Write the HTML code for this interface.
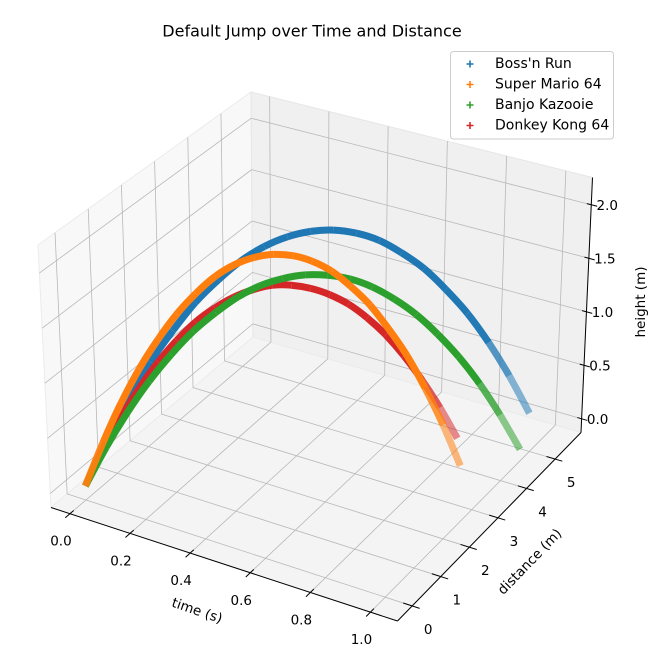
<!DOCTYPE html>
<html><head><meta charset="utf-8"><style>
html,body{margin:0;padding:0;background:#fff;}
svg{display:block;font-family:"DejaVu Sans","Liberation Sans",sans-serif;}
</style></head><body>
<svg id="chart" width="670" height="658" viewBox="0 0 670 658" xmlns="http://www.w3.org/2000/svg">
<text x="312" y="31" font-size="16" text-anchor="middle" dominant-baseline="central" fill="#000">Default Jump over Time and Distance</text>
<g id="panes"></g><g id="grid"></g><g id="axes"></g><g id="series"></g>
<g>
<rect x="450.5" y="51.5" width="163" height="87.5" rx="3" fill="#fff" fill-opacity="0.8" stroke="#cccccc" stroke-width="1"/>
<g><path d="M466.5 64h7M470 60.5v7" stroke="#1f77b4" stroke-width="1.6"/><text x="495" y="64" font-size="14" dominant-baseline="central">Boss'n Run</text></g>
<g><path d="M466.5 84.5h7M470 81v7" stroke="#ff7f0e" stroke-width="1.6"/><text x="495" y="84.5" font-size="14" dominant-baseline="central">Super Mario 64</text></g>
<g><path d="M466.5 105h7M470 101.5v7" stroke="#2ca02c" stroke-width="1.6"/><text x="495" y="105" font-size="14" dominant-baseline="central">Banjo Kazooie</text></g>
<g><path d="M466.5 125.5h7M470 122v7" stroke="#d62728" stroke-width="1.6"/><text x="495" y="125.5" font-size="14" dominant-baseline="central">Donkey Kong 64</text></g>
</g>
</svg>
<script>
// ---- data ----
const seriesNames = ["Boss'n Run", "Donkey Kong 64", "Banjo Kazooie", "Super Mario 64"];
const seriesColors = ["#1f77b4", "#d62728", "#2ca02c", "#ff7f0e"];
const bossTime = [0,.047,.093,.14,.187,.233,.28,.327,.373,.42,.467,.513,.56,.606,.653,.7,.746,.793,.84,.886,.933];
const bossDist = [0,.283,.565,.848,1.13,1.413,1.695,1.978,2.26,2.543,2.825,3.108,3.39,3.673,3.955,4.238,4.52,4.803,5.085,5.368,5.65];
const bossHeight = [0,.39,.74,1.05,1.31,1.54,1.72,1.87,1.97,2.03,2.05,2.03,1.97,1.87,1.72,1.54,1.31,1.05,.74,.39,0];
const marioTime = [0,.045,.089,.134,.178,.223,.267,.312,.356,.401,.445,.49,.534,.579,.623,.668,.712,.757,.801,.846,.89];
const marioDist = [0,.185,.37,.555,.74,.925,1.11,1.295,1.48,1.665,1.85,2.035,2.22,2.405,2.59,2.775,2.96,3.145,3.33,3.515,3.7];
const marioHeight = [0,.39,.74,1.05,1.31,1.54,1.72,1.87,1.97,2.03,2.05,2.03,1.97,1.87,1.72,1.54,1.31,1.05,.74,.39,0];
const banjoTime = [0,.05,.101,.151,.201,.251,.302,.352,.402,.452,.503,.553,.603,.653,.704,.754,.804,.854,.905,.955,1.005];
const banjoDist = [0,.231,.461,.692,.922,1.153,1.383,1.614,1.844,2.075,2.305,2.536,2.766,2.997,3.227,3.458,3.688,3.919,4.149,4.38,4.61];
const banjoHeight = [0,.34,.65,.92,1.15,1.35,1.51,1.64,1.73,1.78,1.8,1.78,1.73,1.64,1.51,1.35,1.15,.92,.65,.34,0];
const dkTime = [0,.04,.081,.121,.162,.202,.242,.283,.323,.364,.404,.444,.485,.525,.566,.606,.646,.687,.727,.768,.808];
const dkDist = [0,.221,.441,.662,.882,1.103,1.323,1.544,1.764,1.985,2.205,2.426,2.646,2.867,3.087,3.308,3.528,3.749,3.969,4.19,4.41];
const dkHeight = [0,.31,.59,.84,1.06,1.24,1.39,1.50,1.58,1.63,1.65,1.63,1.58,1.50,1.39,1.24,1.06,.84,.59,.31,0];
const timeTicks = [0, 0.2, 0.4, 0.6, 0.8, 1.0];
const timeTickLabels = ["0.0","0.2","0.4","0.6","0.8","1.0"];
const distTicks = [0,1,2,3,4,5];
const distTickLabels = ["0","1","2","3","4","5"];
const heightTicks = [0, 0.5, 1.0, 1.5, 2.0];
const heightTickLabels = ["0.0","0.5","1.0","1.5","2.0"];

// ---- projection (box corners) ----
const TMIN=-0.063, TMAX=1.090, DMIN=-0.513, DMAX=5.905, HMIN=-0.128, HMAX=2.255;
const A=[51,507.5],B=[397.5,621],C=[581,432.5],D=[253,337],E=[38,245],F=[402,351],G=[592.5,177.5],H=[251,92];
function bil(p00,p10,p11,p01,u,v){return [p00[0]*(1-u)*(1-v)+p10[0]*u*(1-v)+p11[0]*u*v+p01[0]*(1-u)*v,p00[1]*(1-u)*(1-v)+p10[1]*u*(1-v)+p11[1]*u*v+p01[1]*(1-u)*v];}
function proj(t,d,h){const u=(t-TMIN)/(TMAX-TMIN),v=(d-DMIN)/(DMAX-DMIN),w=(h-HMIN)/(HMAX-HMIN);
 const b=bil(A,B,C,D,u,v),tp=bil(E,F,G,H,u,v);return [b[0]+(tp[0]-b[0])*w,b[1]+(tp[1]-b[1])*w];}
function closeness(t,d,h){const u=(t-TMIN)/(TMAX-TMIN),v=(d-DMIN)/(DMAX-DMIN),w=(h-HMIN)/(HMAX-HMIN);return .433*u-.75*v+.375*w;}
const NS="http://www.w3.org/2000/svg";
function mk(tag,attrs,parent){const e=document.createElementNS(NS,tag);for(const k in attrs)e.setAttribute(k,attrs[k]);parent.appendChild(e);return e;}
function line(p,q,stroke,sw,parent){return mk('line',{x1:p[0],y1:p[1],x2:q[0],y2:q[1],stroke:stroke,'stroke-width':sw},parent);}
function poly(pts){return pts.map(p=>p[0].toFixed(1)+','+p[1].toFixed(1)).join(' ');}

const panes=document.getElementById('panes');
let el=mk('polygon',{points:poly([A,D,H,E]),fill:'#f8f8f8',stroke:'#ebebeb','stroke-width':1},panes);


el=mk('polygon',{points:poly([D,C,G,H]),fill:'#f0f0f0',stroke:'#e6e6e6','stroke-width':1},panes);


el=mk('polygon',{points:poly([A,B,C,D]),fill:'#f4f4f4',stroke:'#ebebeb','stroke-width':1},panes);



const grid=document.getElementById('grid');const gc='#b8b8b8',gw=0.8;
distTicks.forEach(d=>{
 el=line(proj(TMIN,d,HMIN),proj(TMIN,d,HMAX),gc,gw,grid);
 
 
 el=line(proj(TMIN,d,HMIN),proj(TMAX,d,HMIN),gc,gw,grid);
 
 
});
timeTicks.forEach(t=>{
 el=line(proj(t,DMAX,HMIN),proj(t,DMAX,HMAX),gc,gw,grid);
 
 
 el=line(proj(t,DMIN,HMIN),proj(t,DMAX,HMIN),gc,gw,grid);
 
 
});
heightTicks.forEach(h=>{
 el=line(proj(TMIN,DMIN,h),proj(TMIN,DMAX,h),gc,gw,grid);
 
 
 el=line(proj(TMIN,DMAX,h),proj(TMAX,DMAX,h),gc,gw,grid);
 
 
});

const axes=document.getElementById('axes');
el=line(A,B,'#000',1,axes);


el=line(B,C,'#000',1,axes);


el=line(C,G,'#000',1,axes);


function label(txt,x,y,parent,rot){const e=mk('text',{x:x,y:y,'font-size':13.5,'text-anchor':'middle','dominant-baseline':'central',fill:'#000'},parent);if(rot)e.setAttribute('transform','rotate('+rot+' '+x+' '+y+')');e.textContent=txt;return e;}
timeTicks.forEach((t,i)=>{
 const p=proj(t,DMIN,HMIN);
 el=line(proj(t,DMIN-0.15,HMIN),proj(t,DMIN+0.12,HMIN),'#000',1,axes);
 
 
 el=label(timeTickLabels[i],p[0]-9,p[1]+28,axes);
 
 
});
distTicks.forEach((d,i)=>{
 const p=proj(TMAX,d,HMIN);
 el=line(proj(TMAX-0.03,d,HMIN),proj(TMAX+0.025,d,HMIN),'#000',1,axes);
 
 
 el=label(distTickLabels[i],p[0]+16,p[1]+24,axes);
 
 
});
heightTicks.forEach((h,i)=>{
 const p=proj(TMAX,DMAX,h);
 el=line(proj(TMAX-0.015,DMAX,h),proj(TMAX+0.02,DMAX,h),'#000',1,axes);
 
 
 el=label(heightTickLabels[i],p[0]+16,p[1]+1,axes);
 
 
});
el=label('time (s)',197,611,axes,19);


el=label('distance (m)',530,562,axes,-46);


el=label('height (m)',641,302,axes,-90);



// ---- series ----
const seriesData=[[bossTime,bossDist,bossHeight],[dkTime,dkDist,dkHeight],[banjoTime,banjoDist,banjoHeight],[marioTime,marioDist,marioHeight]];
const sg=document.getElementById('series');
seriesData.forEach((s,k)=>{
 const g=mk('g',{},sg);
 
 
 const [ts,ds,hs]=s;const cs=ts.map((t,i)=>closeness(t,ds[i],hs[i]));
 const pts=ts.map((t,i)=>proj(t,ds[i],hs[i]));
 const n=pts.length;
 const cmin=Math.min(...cs),cmax=Math.max(...cs);
 for(let i=0;i<n-1;i++){
  const p0=pts[Math.max(0,i-1)],p1=pts[i],p2=pts[i+1],p3=pts[Math.min(n-1,i+2)];
  const c1=[p1[0]+(p2[0]-p0[0])/6,p1[1]+(p2[1]-p0[1])/6],c2=[p2[0]-(p3[0]-p1[0])/6,p2[1]-(p3[1]-p1[1])/6];
  const c=(cs[i]+cs[i+1])/2;const a=Math.max(0.4,Math.min(1,0.4+1.6*(c-cmin)/(cmax-cmin)));
  const dstr='M'+p1[0].toFixed(1)+' '+p1[1].toFixed(1)+'C'+c1[0].toFixed(1)+' '+c1[1].toFixed(1)+' '+c2[0].toFixed(1)+' '+c2[1].toFixed(1)+' '+p2[0].toFixed(1)+' '+p2[1].toFixed(1);
  const seg=mk('path',{d:dstr,fill:'none',stroke:seriesColors[k],'stroke-width':7,'stroke-opacity':a,'stroke-linecap':'butt'},g);
  
  
 }
});
</script>
</body></html>
